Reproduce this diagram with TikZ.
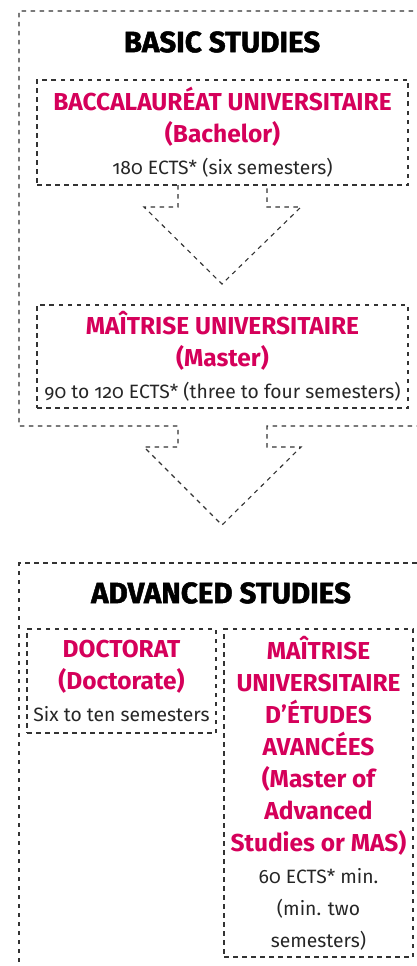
\documentclass[tikz,border=0pt]{standalone}
\usepackage{fontspec}
\setmainfont[Numbers=OldStyle]{Fira Sans}
\newfontfamily\titlefont[BoldFeatures={FakeBold=1.6}]{Fira Sans}
\usetikzlibrary{positioning}
\definecolor{unired}{HTML}{D5005A}
\definecolor{dashgrey}{HTML}{333333}
\newcommand{\redline}[1]{\textcolor{unired}{\fontsize{24.5}{32}\selectfont\bfseries #1}}
\begin{document}
\begin{tikzpicture}[x=1pt, y=-1pt,
  box/.style={draw=dashgrey, line width=1.1pt, dash pattern=on 4.5pt off 4.5pt, inner sep=0pt},
  outline/.style={draw=dashgrey, line width=1.1pt, dash pattern=on 4.5pt off 4.5pt},
  head/.style={font=\titlefont\fontsize{29.5}{34}\selectfont\bfseries},
  lines/.style={align=center, font=\fontsize{19.3}{32}\selectfont, text=black!85}]
\useasboundingbox (0,0) rectangle (417,966);

% basic studies
\node (basic) at (222,42) [head] {BASIC STUDIES};
\node (bachelor) at (222.5,132.5) [box, minimum width=371pt, minimum height=105pt] {};
\node (bachelortxt) at (bachelor.center) [lines] {\redline{BACCALAURÉAT UNIVERSITAIRE}\\
\redline{(Bachelor)}\\
180 ECTS* (six semesters)};
\node (master) at (222.5,356.5) [box, minimum width=371pt, minimum height=103pt] {};
\node (mastertxt) at (master.center) [lines] {\redline{MAÎTRISE UNIVERSITAIRE}\\
\redline{(Master)}\\
90 to 120 ECTS* (three to four semesters)};

\coordinate (b1) at (178,185);
\coordinate (b2) at (267,185);
\coordinate (tip1) at (222,284);
\draw[outline] (b1) -- (178,207) -- (144,207) -- (tip1) -- (301,207) -- (267,207) -- (b2);

\coordinate (o1) at (178,426);
\coordinate (o2) at (267,426);
\coordinate (tip2) at (222,525);
\draw[outline] (430,426) -- (o2) -- (267,447) -- (301,447) -- (tip2) -- (144,447) -- (178,447) -- (o1) -- (19,426) -- (19,11) -- (430,11);

% advanced studies
\node (advanced) at (221,593) [head] {ADVANCED STUDIES};
\draw[outline] (19,980) -- (19,563) -- (430,563);
\node (doctorat) at (121.5,681) [box, minimum width=189pt, minimum height=104pt] {};
\node (doctorattxt) at (doctorat.center) [lines] {\redline{DOCTORAT}\\
\redline{(Doctorate)}\\
Six to ten semesters};
\node (mas) at (318.5,793) [box, minimum width=189pt, minimum height=328pt] {};
\node (mastxt) at (mas.center) [lines] {\redline{MAÎTRISE}\\
\redline{UNIVERSITAIRE}\\
\redline{D’ÉTUDES}\\
\redline{AVANCÉES}\\
\redline{(Master of}\\
\redline{Advanced}\\
\redline{Studies or MAS)}\\
60 ECTS* min.\\
(min. two\\
semesters)};
\end{tikzpicture}
\end{document}
